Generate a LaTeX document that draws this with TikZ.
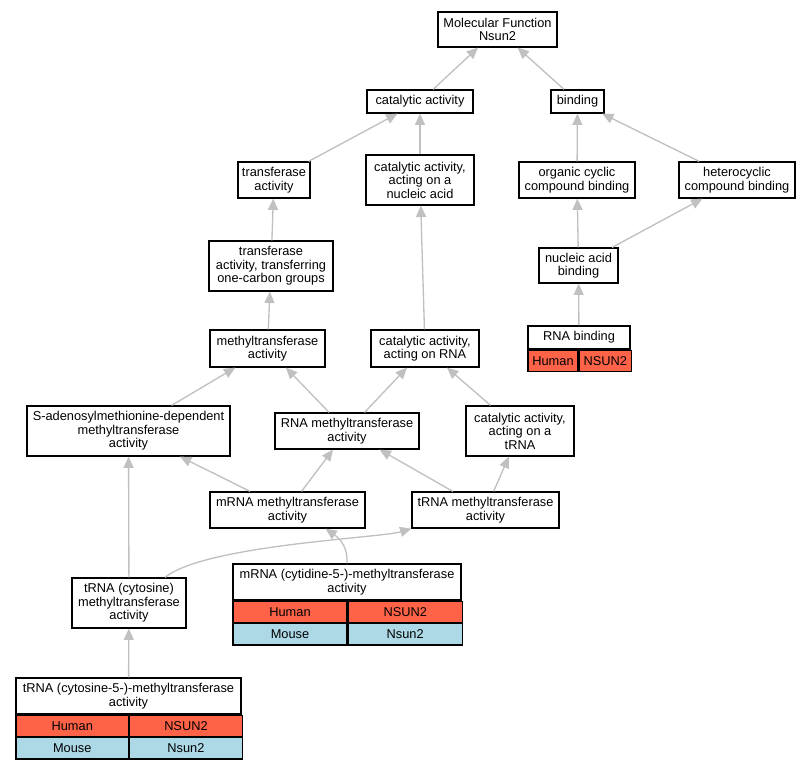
\documentclass[tikz,border=0pt]{standalone}
\usepackage{fontspec}
\setmainfont{Liberation Sans}
\usepackage{xcolor}
\usetikzlibrary{calc, arrows.meta, positioning}
\definecolor{edgegray}{HTML}{C0C0C0}
\definecolor{humanred}{HTML}{FF6347}
\definecolor{mouseblue}{HTML}{ADD8E6}
\tikzset{
  term/.style={
    rectangle, draw=black, line width=0.9pt, fill=white,
    align=center, inner sep=1pt,
    font=\fontsize{9.6}{10.1}\selectfont
  },
  cellbox/.style={
    rectangle, draw=black, line width=0.9pt, inner sep=0pt,
    minimum height=16pt,
    font=\fontsize{9.6}{10.1}\selectfont
  },
  human/.style={cellbox, fill=humanred},
  mouse/.style={cellbox, fill=mouseblue},
  isa/.style={-{Triangle[length=8.5pt, width=7.5pt]}, line width=1pt, color=edgegray},
}

\begin{document}
\begin{tikzpicture}[x=0.75pt, y=-0.75pt]
  \useasboundingbox (0,0) rectangle (811,768);

  % --- Top levels ---
  \node[term, minimum width=89.25pt, minimum height=26.25pt] (root) at (497.5,29.5)
    {Molecular Function\\Nsun2};
  \node[term, minimum width=79.5pt, minimum height=17.25pt] (cat) at (420,101.5)
    {catalytic activity};
  \node[term, minimum width=39.75pt, minimum height=17.25pt] (bind) at (577.5,101.5)
    {binding};

  \node[term, minimum width=54pt, minimum height=27pt] (trans) at (274,180)
    {transferase\\activity};
  \node[term, minimum width=81pt, minimum height=37.5pt] (catna) at (420,180)
    {catalytic activity,\\acting on a\\nucleic acid};
  \node[term, minimum width=87pt, minimum height=27pt] (orgcyc) at (577,180)
    {organic cyclic\\compound binding};
  \node[term, minimum width=87pt, minimum height=27pt] (hetcyc) at (737,180)
    {heterocyclic\\compound binding};

  \node[term, minimum width=93pt, minimum height=37.5pt] (onecarb) at (271,266)
    {transferase\\activity, transferring\\one-carbon groups};
  \node[term, minimum width=59.25pt, minimum height=26.25pt] (nab) at (578.5,265.5)
    {nucleic acid\\binding};

  \node[term, minimum width=86.25pt, minimum height=27.75pt] (meth) at (267.5,348.5)
    {methyltransferase\\activity};
  \node[term, minimum width=81pt, minimum height=27.75pt] (catrna) at (425,348.5)
    {catalytic activity,\\acting on RNA};

  % --- RNA binding table ---
  \node[term, minimum width=76.5pt, minimum height=17.25pt] (rnab) at (579,337.5)
    {RNA binding};
  \node[human, minimum width=37.5pt, below right=0pt and 0pt of rnab.south west] (rnabhs)
    {Human};
  \node[human, minimum width=39pt, right=0pt of rnabhs] (rnabhg)
    {NSUN2};

  % --- Middle levels ---
  \node[term, minimum width=152.25pt, minimum height=37.5pt] (sam) at (128.5,431)
    {S-adenosylmethionine-dependent\\methyltransferase\\activity};
  \node[term, minimum width=108pt, minimum height=27pt] (rnameth) at (347,431)
    {RNA methyltransferase\\activity};
  \node[term, minimum width=81pt, minimum height=37.5pt] (cattrna) at (520,431)
    {catalytic activity,\\acting on a\\tRNA};

  \node[term, minimum width=116.25pt, minimum height=27pt] (mrnameth) at (287.5,510)
    {mRNA methyltransferase\\activity};
  \node[term, minimum width=110.25pt, minimum height=27pt] (trnameth) at (485.5,510)
    {tRNA methyltransferase\\activity};

  \node[term, minimum width=85.5pt, minimum height=37.5pt] (trnacyt) at (129,603)
    {tRNA (cytosine)\\methyltransferase\\activity};

  % --- mRNA (cytidine-5-) table ---
  \node[term, minimum width=171pt, minimum height=27pt] (mrnacyt) at (347,582)
    {mRNA (cytidine-5-)-methyltransferase\\activity};
  \node[human, minimum width=85.5pt, below right=0pt and 0pt of mrnacyt.south west] (mrnacyths)
    {Human};
  \node[human, minimum width=85.5pt, right=0pt of mrnacyths] (mrnacythg)
    {NSUN2};
  \node[mouse, minimum width=85.5pt, below=0pt of mrnacyths] (mrnacytms)
    {Mouse};
  \node[mouse, minimum width=85.5pt, right=0pt of mrnacytms] (mrnacytmg)
    {Nsun2};

  % --- tRNA (cytosine-5-) table ---
  \node[term, minimum width=168.75pt, minimum height=27pt] (trnacyt5) at (128.5,696)
    {tRNA (cytosine-5-)-methyltransferase\\activity};
  \node[human, minimum width=84.375pt, below right=0pt and 0pt of trnacyt5.south west] (trnacyt5hs)
    {Human};
  \node[human, minimum width=84.375pt, right=0pt of trnacyt5hs] (trnacyt5hg)
    {NSUN2};
  \node[mouse, minimum width=84.375pt, below=0pt of trnacyt5hs] (trnacyt5ms)
    {Mouse};
  \node[mouse, minimum width=84.375pt, right=0pt of trnacyt5ms] (trnacyt5mg)
    {Nsun2};

  % --- is_a edges ---
  \draw[isa] (cat) -- (root);
  \draw[isa] (bind) -- (root);
  \draw[isa] (trans) -- (cat);
  \draw[isa] (catna) -- (cat);
  \draw[isa] (orgcyc) -- (bind);
  \draw[isa] (hetcyc) -- (bind);
  \draw[isa] (onecarb) -- (trans);
  \draw[isa] (meth) -- (onecarb);
  \draw[isa] (catrna) -- (catna);
  \draw[isa] (nab) -- (orgcyc);
  \draw[isa] (nab) -- (hetcyc);
  \draw[isa] (rnab) -- (nab);
  \draw[isa] (sam) -- (meth);
  \draw[isa] (rnameth) -- (meth);
  \draw[isa] (rnameth) -- (catrna);
  \draw[isa] (cattrna) -- (catrna);
  \draw[isa] (mrnameth) -- (sam);
  \draw[isa] (mrnameth) -- (rnameth);
  \draw[isa] (trnameth) -- (rnameth);
  \draw[isa] (trnameth) -- (cattrna);
  \draw[isa] (trnacyt) -- (sam);
  \draw[isa] ($(trnacyt.north)+(36,0)$) .. controls (205,545) and (380,538)
    .. (trnameth.south west);
  \draw[isa] (mrnacyt.north) .. controls (348,550) and (342,540)
    .. ($(mrnameth.south)+(38,0)$);
  \draw[isa] (trnacyt5) -- (trnacyt);

\end{tikzpicture}
\end{document}
